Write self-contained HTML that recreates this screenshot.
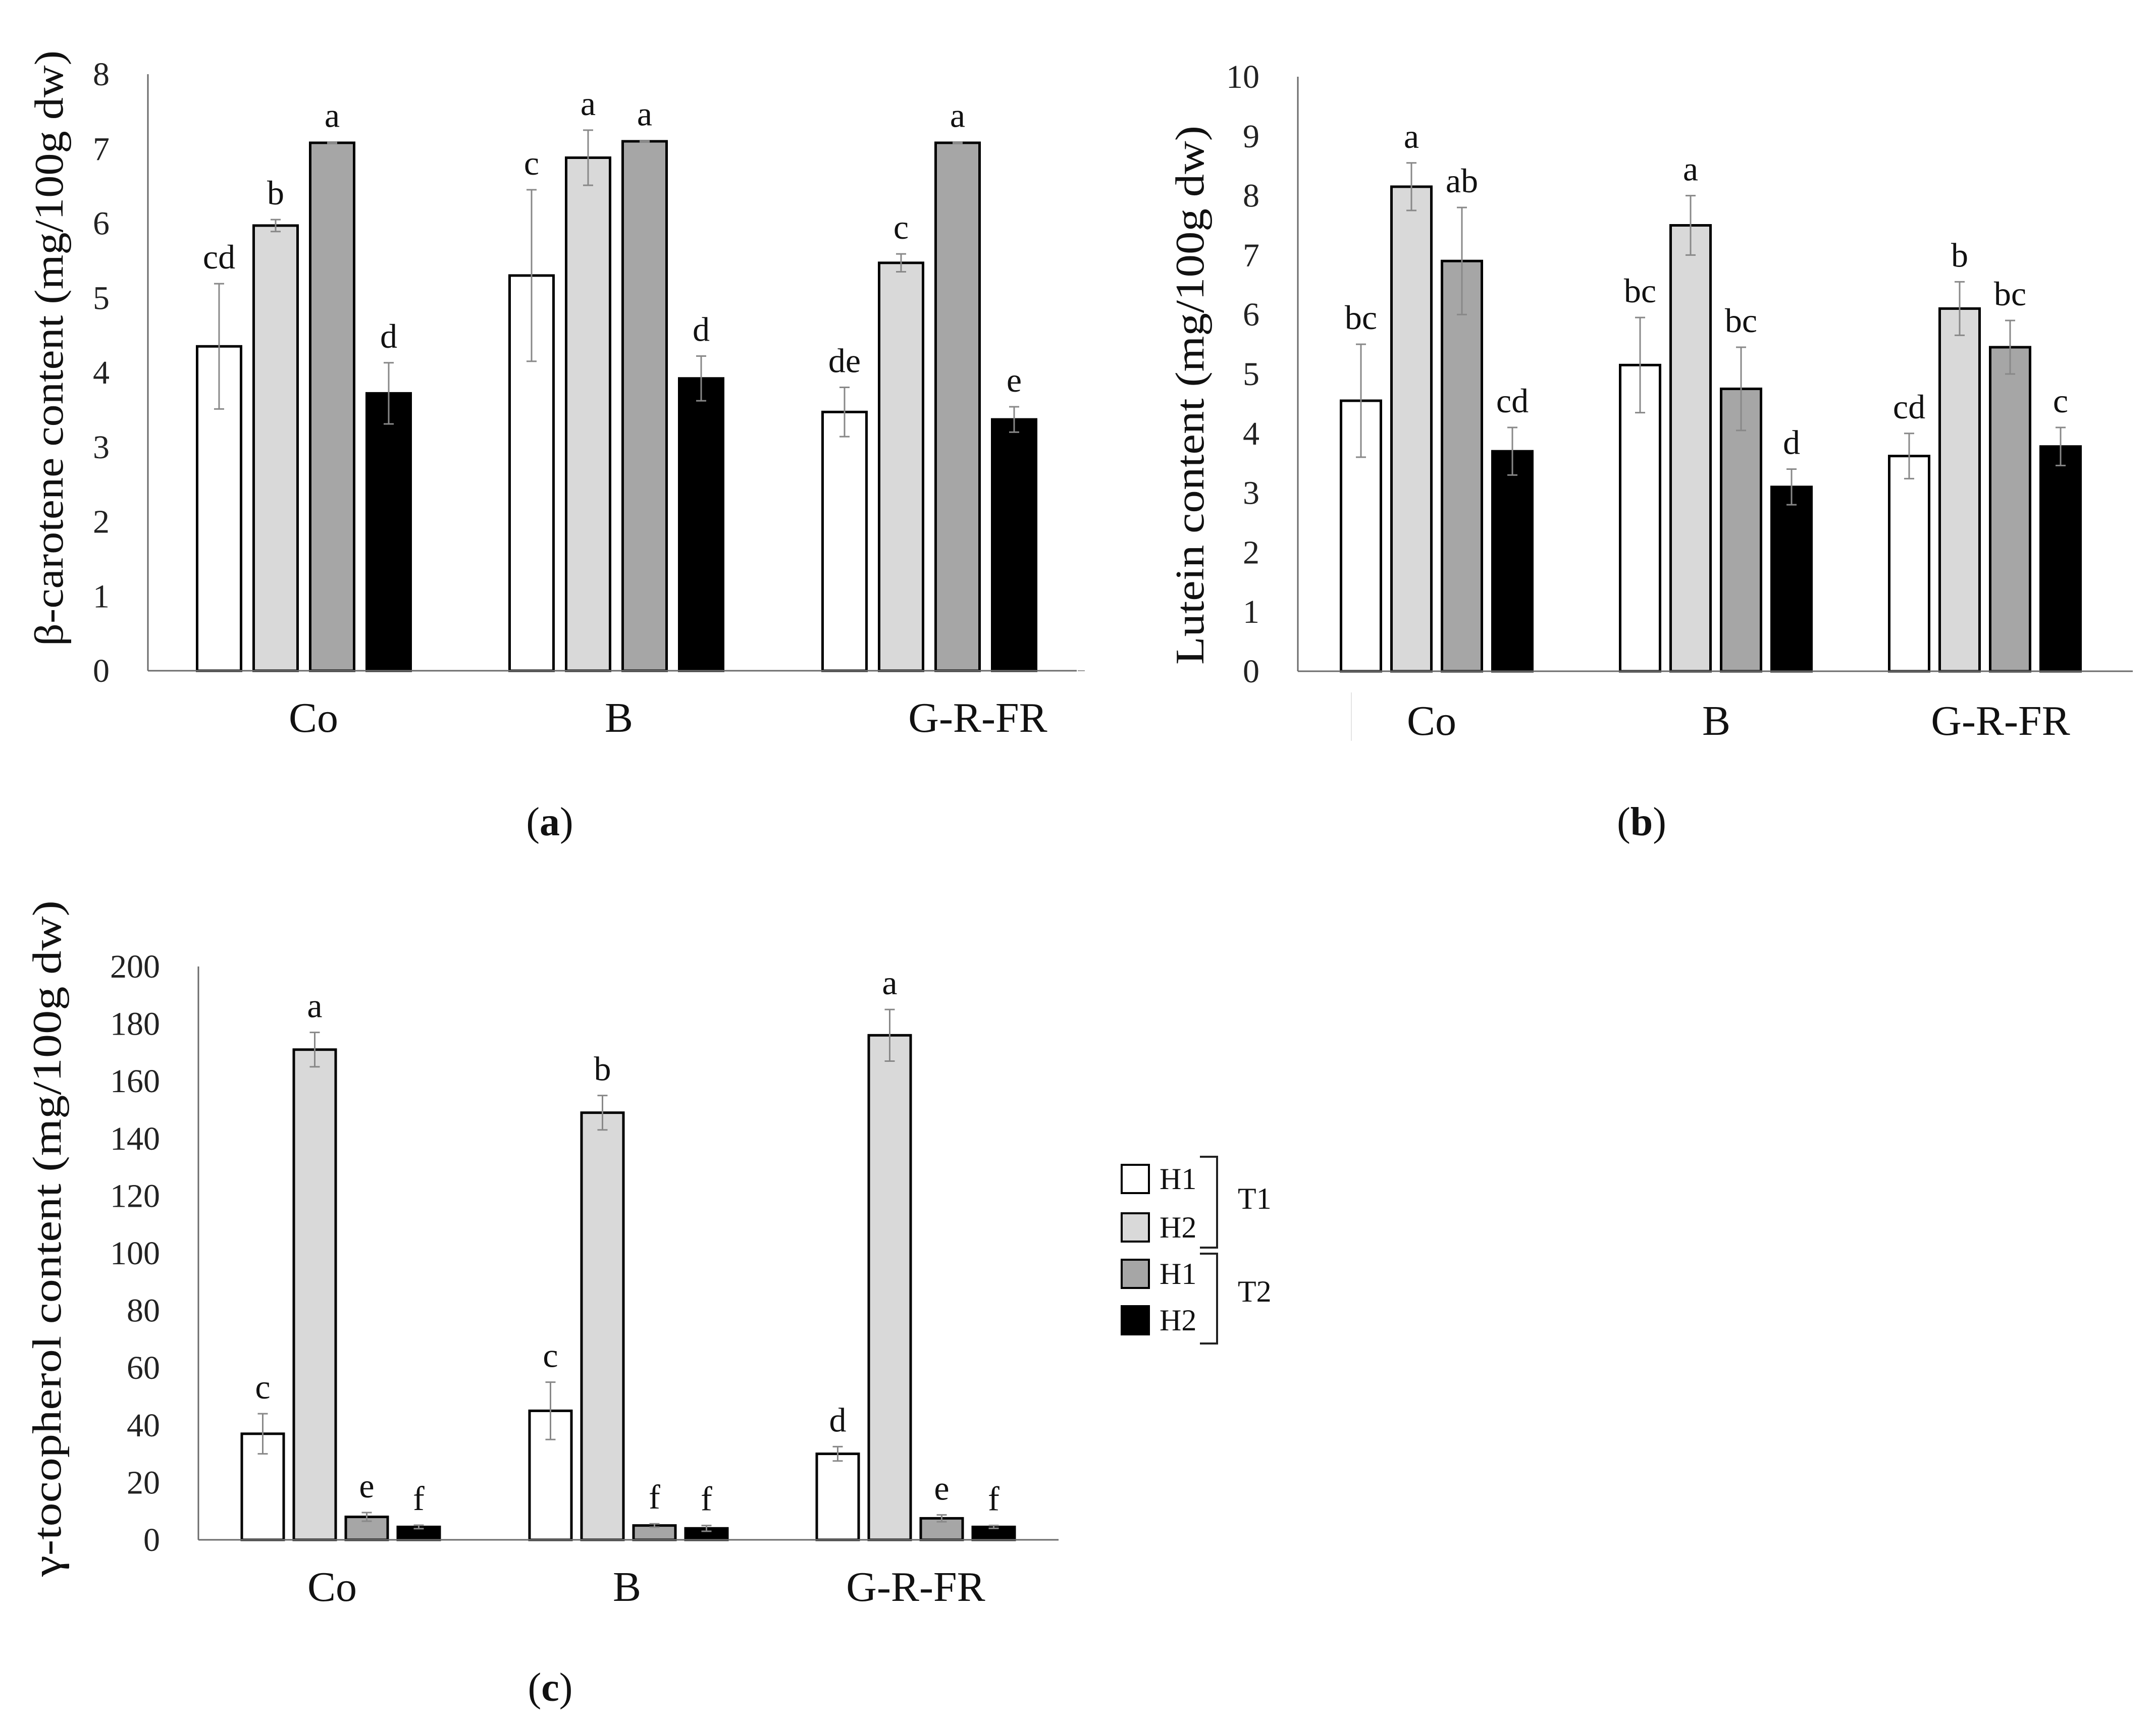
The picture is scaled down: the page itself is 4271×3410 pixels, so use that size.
<!DOCTYPE html>
<html><head><meta charset="utf-8"><style>
html,body{margin:0;padding:0;background:#fff;}
svg{display:block;font-family:"Liberation Serif",serif;}
</style></head><body>
<svg id="fig" width="4271" height="3410" viewBox="0 0 4271 3410" xmlns="http://www.w3.org/2000/svg"></svg>
<script>
const categories = ["Co","B","G-R-FR"];
// panel a: beta-carotene (T1H1, T1H2, T2H1, T2H2) per category
const aT1H1 = [4.35, 5.3, 3.47];
const aT1H2 = [5.97, 6.88, 5.47];
const aT2H1 = [7.08, 7.1, 7.08];
const aT2H2 = [3.72, 3.92, 3.37];
const aErrT1H1 = [0.84, 1.15, 0.33];
const aErrT1H2 = [0.08, 0.37, 0.12];
const aErrT2H1 = [0.01, 0.01, 0.01];
const aErrT2H2 = [0.41, 0.3, 0.17];
const aLetters = [["cd","b","a","d"],["c","a","a","d"],["de","c","a","e"]];
const aTicks = ["0","1","2","3","4","5","6","7","8"];
// panel b: lutein
const bT1H1 = [4.55, 5.15, 3.62];
const bT1H2 = [8.15, 7.5, 6.1];
const bT2H1 = [6.9, 4.75, 5.45];
const bT2H2 = [3.7, 3.1, 3.78];
const bErrT1H1 = [0.95, 0.8, 0.38];
const bErrT1H2 = [0.4, 0.5, 0.45];
const bErrT2H1 = [0.9, 0.7, 0.45];
const bErrT2H2 = [0.4, 0.3, 0.32];
const bLetters = [["bc","a","ab","cd"],["bc","a","bc","d"],["cd","b","bc","c"]];
const bTicks = ["0","1","2","3","4","5","6","7","8","9","10"];
// panel c: gamma-tocopherol
const cT1H1 = [37, 45, 30];
const cT1H2 = [171, 149, 176];
const cT2H1 = [8, 5, 7.5];
const cT2H2 = [4.5, 4, 4.5];
const cErrT1H1 = [7, 10, 2.5];
const cErrT1H2 = [6, 6, 9];
const cErrT2H1 = [1.5, 0.6, 1.2];
const cErrT2H2 = [0.6, 1, 0.5];
const cLetters = [["c","a","e","f"],["c","b","f","f"],["d","a","e","f"]];
const cTicks = ["0","20","40","60","80","100","120","140","160","180","200"];

const NS="http://www.w3.org/2000/svg";
const svg=document.getElementById('fig');
const fills=["#ffffff","#d9d9d9","#a6a6a6","#000000"];
const seriesNames=["t1-h1","t1-h2","t2-h1","t2-h2"];
function el(tag,attrs,parent){const e=document.createElementNS(NS,tag);for(const k in attrs)e.setAttribute(k,attrs[k]);(parent||svg).appendChild(e);return e;}
function txt(s,attrs,parent){const t=el('text',attrs,parent);t.textContent=s;return t;}

function panel(p){
  const g=el('g',{});
  
  
  const maxV=parseFloat(p.ticks[p.ticks.length-1]);
  const y=v=>p.y0-(v/maxV)*(p.y0-p.yTop);
  const ax=el('line',{x1:p.axisX,y1:p.yTop,x2:p.axisX,y2:p.y0,stroke:'#6b6b6b','stroke-width':3},g);
  
  p.ticks.forEach(t=>{
    const tl=txt(t,{x:p.axisX-76,y:y(parseFloat(t))+22,'text-anchor':'end','font-size':66,fill:'#222'},g);
    
  });
  const series=[p.s1,p.s2,p.s3,p.s4], errs=[p.e1,p.e2,p.e3,p.e4];
  categories.forEach((c,i)=>{
    const cx=p.centers[i];
    for(let s=0;s<4;s++){
      const bx=cx+(s-1.5)*p.step-p.bw/2, v=series[s][i];
      const r=el('rect',{x:bx,y:y(v),width:p.bw,height:p.y0-y(v),fill:fills[s],stroke:'#000','stroke-width':5},g);
      
      
      const bc=bx+p.bw/2, e=errs[s][i];
      const top=y(v+e), bot=y(v-e);
      const eg=el('g',{stroke:'#888','stroke-width':3},g);
      
      el('line',{x1:bc,y1:top,x2:bc,y2:bot},eg);
      el('line',{x1:bc-10,y1:top,x2:bc+10,y2:top},eg);
      el('line',{x1:bc-10,y1:bot,x2:bc+10,y2:bot},eg);
      const lt=txt(p.letters[i][s],{x:bc,y:top-30,'text-anchor':'middle','font-size':68,fill:'#111'},g);
      
    }
    const cl=txt(c,{x:p.catX[i],y:p.catY,'text-anchor':'middle','font-size':84,fill:'#111'},g);
    
  });
  const bx=el('line',{x1:p.axisX,y1:p.y0,x2:p.axisEnd,y2:p.y0,stroke:'#6b6b6b','stroke-width':3},g);
  
  const ti=txt(p.title,{x:0,y:0,'text-anchor':'middle','font-size':80,fill:'#111',textLength:p.titleLen,lengthAdjust:'spacingAndGlyphs',transform:`translate(${p.titleX},${p.titleY}) rotate(-90)`},g);
  
  const pl=el('text',{x:p.labX,y:p.labY,'text-anchor':'middle','font-size':80,fill:'#111'},g);
  
  pl.innerHTML='(<tspan font-weight="bold">'+p.lab+'</tspan>)';
}

panel({id:'beta-carotene',s1:aT1H1,s2:aT1H2,s3:aT2H1,s4:aT2H2,e1:aErrT1H1,e2:aErrT1H2,e3:aErrT2H1,e4:aErrT2H2,
  letters:aLetters,ticks:aTicks,axisX:293,axisEnd:2133,y0:1329,yTop:147,centers:[602,1221,1841],step:112,bw:87,
  catX:[621,1226,1937],catY:1450,title:'β-carotene content (mg/100g dw)',titleX:124,titleY:690,titleLen:1180,labX:1089,labY:1655,lab:'a'});
panel({id:'lutein',s1:bT1H1,s2:bT1H2,s3:bT2H1,s4:bT2H2,e1:bErrT1H1,e2:bErrT1H2,e3:bErrT2H1,e4:bErrT2H2,
  letters:bLetters,ticks:bTicks,axisX:2571,axisEnd:4225,y0:1330,yTop:152,centers:[2846,3399,3932],step:100,bw:79,
  catX:[2836,3400,3963],catY:1456,title:'Lutein content (mg/100g dw)',titleX:2384,titleY:783,titleLen:1068,labX:3252,labY:1655,lab:'b'});
panel({id:'gamma-tocopherol',s1:cT1H1,s2:cT1H2,s3:cT2H1,s4:cT2H2,e1:cErrT1H1,e2:cErrT1H2,e3:cErrT2H1,e4:cErrT2H2,
  letters:cLetters,ticks:cTicks,axisX:393,axisEnd:2097,y0:3051,yTop:1915,centers:[675,1245,1814],step:103,bw:83,
  catX:[658,1242,1814],catY:3172,title:'γ-tocopherol content (mg/100g dw)',titleX:120,titleY:2454,titleLen:1340,labX:1090,labY:3370,lab:'c'});

el('line',{x1:2135,y1:1329,x2:2149,y2:1329,stroke:'#999','stroke-width':2});
el('line',{x1:2677,y1:1372,x2:2677,y2:1468,stroke:'#e4e4e4','stroke-width':2});

const lg=el('g',{});


const legY=[2308,2404,2496,2588];
const legL=["H1","H2","H1","H2"];
legY.forEach((yy,i)=>{
  const r=el('rect',{x:2222,y:yy,width:54,height:56,fill:fills[i],stroke:'#000','stroke-width':4},lg);
  
  
  const t=txt(legL[i],{x:2297,y:yy+48,'font-size':60,fill:'#111'},lg);
  
  
});
el('polyline',{points:'2377,2292 2411,2292 2411,2472 2377,2472',fill:'none',stroke:'#222','stroke-width':4},lg);
el('polyline',{points:'2377,2484 2411,2484 2411,2662 2377,2662',fill:'none',stroke:'#222','stroke-width':4},lg);
const t1=txt('T1',{x:2452,y:2395,'font-size':60,fill:'#111'},lg);


const t2=txt('T2',{x:2452,y:2579,'font-size':60,fill:'#111'},lg);


</script>
</body></html>
